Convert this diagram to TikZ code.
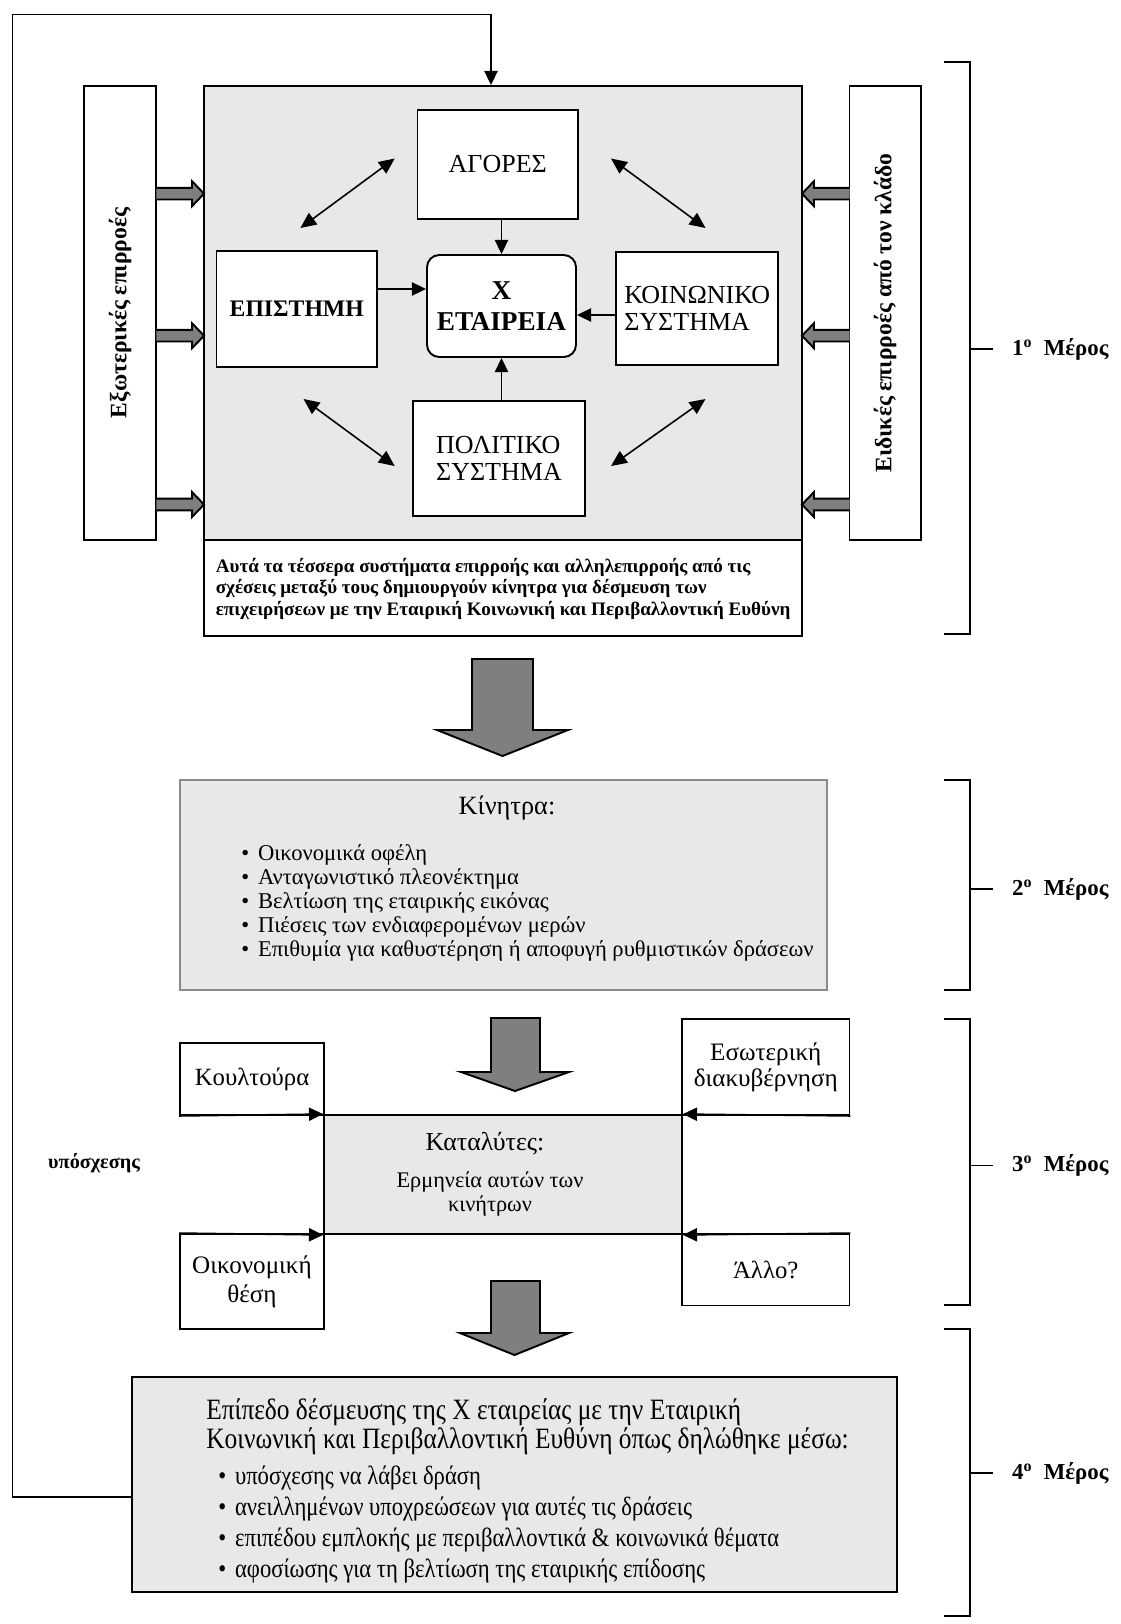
\documentclass[tikz,border=0pt]{standalone}
\usepackage{fontspec}
\setmainfont{Liberation Serif}
\newfontfamily\narrowfont{Liberation Serif}[FakeStretch=0.86]
\usetikzlibrary{arrows.meta,positioning,fit,calc}

\definecolor{panelgray}{HTML}{E8E8E8}
\definecolor{arrowgray}{HTML}{7F7F7F}
\definecolor{rimgray}{HTML}{8A8A8A}

\tikzset{
    box/.style={draw, line width=1.1pt, fill=white, inner sep=0pt},
    panel/.style={box, fill=panelgray},
    txt/.style={inner sep=0pt, align=center},
    link/.style={-{Triangle[length=8pt,width=7.5pt]}, line width=0.9pt},
    twoway/.style={{Triangle[length=9pt,width=8pt]}-{Triangle[length=9pt,width=8pt]}, line width=0.9pt},
    blockarrow/.style={draw, line width=1.1pt, fill=arrowgray, line join=miter},
    brace/.style={line width=1.1pt},
}
\newcommand{\fsz}[2]{\fontsize{#1}{#2}\selectfont}
\newcommand{\rightblock}[3]{\draw[blockarrow] (#1,#3-5.8) -- (#2-12,#3-5.8) -- (#2-12,#3-12.5) -- (#2,#3) -- (#2-12,#3+12.5) -- (#2-12,#3+5.8) -- (#1,#3+5.8);}
\newcommand{\leftblock}[3]{\draw[blockarrow] (#1,#3-5.8) -- (#2+12,#3-5.8) -- (#2+12,#3-12.5) -- (#2,#3) -- (#2+12,#3+12.5) -- (#2+12,#3+5.8) -- (#1,#3+5.8);}
\newcommand{\downblock}[7]{\draw[blockarrow] (#1,#5) -- (#2,#5) -- (#2,#6) -- (#4,#6) -- ({(#3+#4)/2},#7) -- (#3,#6) -- (#1,#6) -- cycle;}
\newcommand{\bul}{\textbullet\hspace{5pt}}

\begin{document}
\begin{tikzpicture}[x=0.02cm, y=-0.02cm]
    \useasboundingbox (0,0) rectangle (1121,1624);

    % 1o meros
    \node[panel, fit={(204,86) (802,540)}] (core) {};
    \node[box, fit={(204,540) (802,636)}] (caption) {};
    \node[txt, anchor=west, align=left, font=\bfseries\fsz{10.85}{12.2}] (captiontext) at (215.5,588.5)
        {Αυτά τα τέσσερα συστήματα επιρροής και αλληλεπιρροής από τις\\
         σχέσεις μεταξύ τους δημιουργούν κίνητρα για δέσμευση των\\
         επιχειρήσεων με την Εταιρική Κοινωνική και Περιβαλλοντική Ευθύνη};
    \node[box, fit={(84,86) (156.4,540)}] (ext) {};
    \node[txt, rotate=90, font=\bfseries\fsz{13.4}{15}] (exttext) at (ext.center) {Εξωτερικές επιρροές};
    \node[box, fit={(849.5,86) (921,540)}] (sector) {};
    \node[txt, rotate=90, font=\bfseries\fsz{13.4}{15}] (sectortext) at (sector.center) {Ειδικές επιρροές από τον κλάδο};

    \node[box, fit={(417.5,110) (578,218.6)}] (agores) {};
    \node[txt, font=\fsz{14.8}{16}] (agorestext) at (agores.center) {ΑΓΟΡΕΣ};
    \node[box, fit={(216.5,250.7) (377,366.7)}] (epist) {};
    \node[txt, font=\bfseries\fsz{13.5}{16}] (epistext) at (epist.center) {ΕΠΙΣΤΗΜΗ};
    \node[box, rounded corners=7pt, fit={(427,255) (576,357)}] (firm) {};
    \node[txt, font=\bfseries\fsz{15.5}{17.6}] (firmtext) at (firm.center) {Χ\\ΕΤΑΙΡΕΙΑ};
    \node[box, fit={(616.4,251.7) (778,364.7)}] (social) {};
    \node[txt, align=left, font=\fsz{14.8}{15.5}] (socialtext) at (social.center) {ΚΟΙΝΩΝΙΚΟ\\ΣΥΣΤΗΜΑ};
    \node[box, fit={(413,401) (585,516)}] (polit) {};
    \node[txt, align=left, font=\fsz{14.8}{15.5}] (polittext) at (polit.center) {ΠΟΛΙΤΙΚΟ\\ΣΥΣΤΗΜΑ};

    \coordinate (epirow) at (0,289);
    \coordinate (socrow) at (0,315);
    \draw[link] (firm.north |- agores.south) -- (firm.north);
    \draw[link] (epist.east |- epirow) -- (firm.west |- epirow);
    \draw[link] (social.west |- socrow) -- (firm.east |- socrow);
    \draw[link] (firm.south |- polit.north) -- (firm.south);

    \coordinate (nw1) at (300.4,228);   \coordinate (nw2) at (394.7,158.5);
    \coordinate (ne1) at (611,158.5);   \coordinate (ne2) at (705.5,228);
    \coordinate (sw1) at (303.5,399);   \coordinate (sw2) at (394.7,466);
    \coordinate (se1) at (611,466);     \coordinate (se2) at (705.5,399);
    \draw[twoway] (nw1) -- (nw2);
    \draw[twoway] (ne1) -- (ne2);
    \draw[twoway] (sw1) -- (sw2);
    \draw[twoway] (se1) -- (se2);

    \foreach \y in {193.7,335.7,504.5} {
        \rightblock{156.4}{204}{\y}
        \leftblock{849.5}{802}{\y}
    }

    \downblock{472}{533}{437}{568}{659}{730}{756}

    % 2o meros
    \node[panel, draw=rimgray, fit={(180,780) (827,990)}] (kin) {};
    \node[txt, font=\fsz{15}{17}] (kintitle) at (507,808) {Κίνητρα:};
    \node[txt, anchor=west, align=left, font=\fsz{12.85}{13.6}] (kinlist) at (241,903)
        {\bul Οικονομικά οφέλη\\
         \bul Ανταγωνιστικό πλεονέκτημα\\
         \bul Βελτίωση της εταιρικής εικόνας\\
         \bul Πιέσεις των ενδιαφερομένων μερών\\
         \bul Επιθυμία για καθυστέρηση ή αποφυγή ρυθμιστικών δράσεων};

    \downblock{491}{540}{461}{569}{1018}{1072}{1091}

    % 3o meros
    \node[box, fit={(180,1043) (324,1115)}] (koul) {};
    \node[txt, font=\fsz{14.1}{15.5}] (koultext) at (koul.center) {Κουλτούρα};
    \node[box, fit={(682,1019) (849.5,1115)}] (gov) {};
    \node[txt, font=\fsz{14.3}{15}] (govtext) at (gov.center) {Εσωτερική\\διακυβέρνηση};
    \node[panel, fit={(324,1115) (682,1234)}] (kat) {};
    \node[box, fit={(180,1234) (324,1329)}] (econ) {};
    \node[txt, font=\fsz{14.3}{16.5}] (econtext) at (econ.center) {Οικονομική\\θέση};
    \node[box, fit={(682,1234) (849.5,1305.5)}] (other) {};
    \node[txt, font=\fsz{14.1}{15.5}] (othertext) at (other.center) {Άλλο?};
    \node[txt, font=\fsz{14.7}{16}] (kattitle) at (485,1144) {Καταλύτες:};
    \node[txt, font=\fsz{12.7}{14.2}] (katbody) at (490,1194) {Ερμηνεία αυτών των\\κινήτρων};

    \draw[link] (koul.south west) -- (kat.north west);
    \draw[link] (econ.north west) -- (kat.south west);
    \draw[link] (gov.south east) -- (kat.north east);
    \draw[link] (other.north east) -- (kat.south east);

    \downblock{491}{540}{460}{569}{1281}{1333}{1355}

    % 4o meros
    \node[panel, fit={(131.6,1377) (897,1592)}] (commit) {};
    \node[txt, anchor=west, align=left, font=\narrowfont\fsz{16.8}{15.3}] (committitle) at (206,1426.5)
        {Επίπεδο δέσμευσης της Χ εταιρείας με την Εταιρική\\
         Κοινωνική και Περιβαλλοντική Ευθύνη όπως δηλώθηκε μέσω:};
    \node[txt, anchor=west, align=left, font=\narrowfont\fsz{15}{17.8}] (commitlist) at (218,1524.5)
        {\bul υπόσχεσης να λάβει δράση\\
         \bul ανειλλημένων υποχρεώσεων για αυτές τις δράσεις\\
         \bul επιπέδου εμπλοκής με περιβαλλοντικά \& κοινωνικά θέματα\\
         \bul αφοσίωσης για τη βελτίωση της εταιρικής επίδοσης};

    % feedback
    \coordinate (fb) at (12.4,1497);
    \coordinate (fbtop) at (491,14.5);
    \draw[link] (fb -| commit.west) -- (fb) |- (fbtop) -- (fbtop |- core.north);
    \node[txt, font=\bfseries\fsz{11.5}{13}] (promise) at (94,1163) {υπόσχεσης};

    % brackets
    \foreach \t/\b/\m/\k in {62/634/349/1, 780/990/889/2, 1019.4/1305.4/1165.5/3, 1329/1616/1473/4} {
        \draw[brace] (944,\t) -| (970,\b) -- (944,\b);
        \draw[brace] (970,\m) -- (992.5,\m);
        \node[anchor=west, font=\bfseries\fsz{13}{15}] (part\k) at (1006,\m) {\k\textsuperscript{ο}\ \ Μέρος};
    }
\end{tikzpicture}
\end{document}
